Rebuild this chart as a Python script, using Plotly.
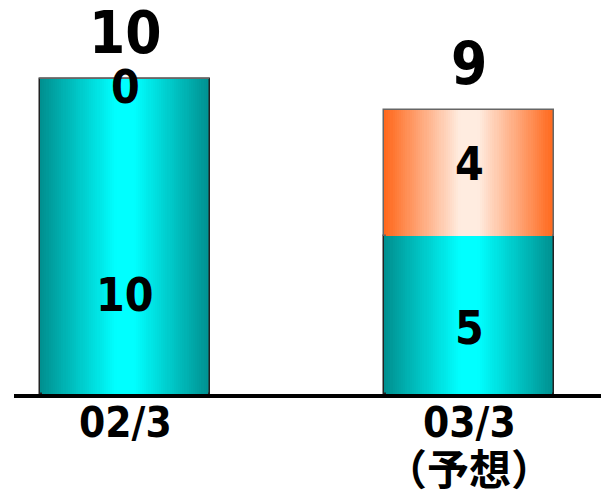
import plotly.graph_objects as go

# ---- data ----
categories = ["02/3", "03/3<br>（予想）"]
actual = [10, 5]
forecast = [0, 4]
totals = [a + f for a, f in zip(actual, forecast)]

# ---- style ----
FONT = "DejaVu Sans Condensed, Noto Sans CJK JP, sans-serif"
BAR_W = 0.494
N_LAYERS = 40
teal_center, teal_edge = (0, 255, 255), (0, 144, 144)
orange_center, orange_edge = (255, 236, 224), (255, 104, 28)
shift_actual = [-59, -13]
shift_forecast = [-8, 9]
shift_total = 46
cat_line_shifts = [-28, -76]

xs = list(range(len(categories)))


def mix(c, e, t):
    return "rgb(%d,%d,%d)" % tuple(round(c[k] + (e[k] - c[k]) * t) for k in range(3))


fig = go.Figure()
for i in range(N_LAYERS):
    frac = 1 - i / N_LAYERS
    t = min(max((frac - 0.12) / 0.88, 0), 1)
    outer = i == 0
    fig.add_trace(go.Bar(
        x=xs, y=actual, base=[0] * len(actual), width=BAR_W * frac,
        marker=dict(color=mix(teal_center, teal_edge, t),
                    line=dict(width=1.5 if outer else 0, color="#222")),
        hoverinfo="skip", showlegend=False))
    fig.add_trace(go.Bar(
        x=xs, y=forecast, base=actual, width=BAR_W * frac,
        marker=dict(color=mix(orange_center, orange_edge, t),
                    line=dict(width=1.5 if outer else 0, color="#666")),
        hoverinfo="skip", showlegend=False))

annotations = []
for x, a, f, tot, sa, sf, cat in zip(xs, actual, forecast, totals,
                                      shift_actual, shift_forecast, categories):
    annotations.append(dict(x=x, y=a / 2, text=str(a), showarrow=False, yshift=sa,
                            font=dict(size=46, color="black", family=FONT, weight="bold")))
    annotations.append(dict(x=x, y=a + f / 2, text=str(f), showarrow=False, yshift=sf,
                            font=dict(size=46, color="black", family=FONT, weight="bold")))
    annotations.append(dict(x=x, y=tot, text=str(tot), showarrow=False, yshift=shift_total,
                            font=dict(size=58, color="black", family=FONT, weight="bold")))
    for line, ys in zip(cat.split("<br>"), cat_line_shifts):
        annotations.append(dict(x=x, y=0, text=line, showarrow=False, yshift=ys,
                                font=dict(size=42, color="black", family=FONT, weight="bold")))

fig.update_layout(
    width=601, height=487,
    margin=dict(l=6, r=0, t=2, b=101, autoexpand=False),
    paper_bgcolor="white", plot_bgcolor="white",
    barmode="overlay", bargap=0,
    annotations=annotations,
    xaxis=dict(range=[-0.3227, 1.407], tickvals=xs, showticklabels=False,
               showline=True, linecolor="black", linewidth=4, automargin=False,
               showgrid=False, zeroline=False, ticks=""),
    yaxis=dict(range=[0, 12.19], visible=False, showgrid=False, zeroline=False),
)

fig.write_html("out.html")
